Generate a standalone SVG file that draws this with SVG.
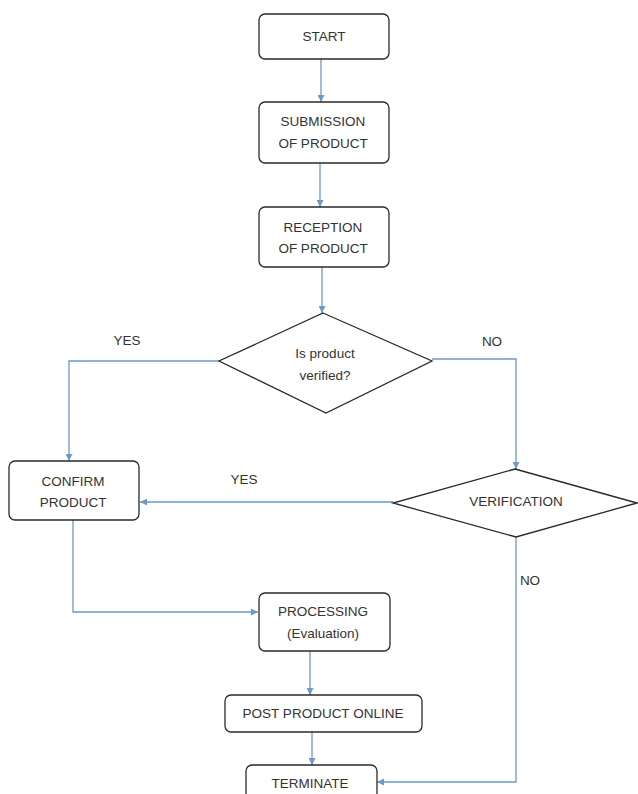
<svg xmlns="http://www.w3.org/2000/svg" width="638" height="794" viewBox="0 0 638 794">
<defs>
<style>
.box{fill:#fff;stroke:#2a2a2a;stroke-width:1.3}
.t{font-family:"Liberation Sans",Arial,sans-serif;font-size:13.5px;fill:#333;text-anchor:middle;dominant-baseline:central}
.c{fill:none;stroke:#6b9ac6;stroke-width:1.3}
</style>
<marker id="ah" viewBox="0 0 10 10" refX="10" refY="5" markerWidth="7" markerHeight="7" markerUnits="userSpaceOnUse" orient="auto">
<path d="M0,0 L10,5 L0,10 z" fill="#6b9ac6"/>
</marker>
</defs>
<rect width="638" height="794" fill="#fff"/>
<g id="connectors">
<path class="c" d="M321,59 V102" marker-end="url(#ah)"/>
<path class="c" d="M320,163 V207" marker-end="url(#ah)"/>
<path class="c" d="M322,267 V313" marker-end="url(#ah)"/>
<path class="c" d="M219,361 H69 V461" marker-end="url(#ah)"/>
<path class="c" d="M432,359 H516 V469" marker-end="url(#ah)"/>
<path class="c" d="M393,502 H140" marker-end="url(#ah)"/>
<path class="c" d="M73,520 V612 H258" marker-end="url(#ah)"/>
<path class="c" d="M310,651 V695" marker-end="url(#ah)"/>
<path class="c" d="M312,732 V765" marker-end="url(#ah)"/>
<path class="c" d="M516,537 V782 H377" marker-end="url(#ah)"/>
<text class="t" x="127" y="340">YES</text>
<text class="t" x="492" y="341">NO</text>
<text class="t" x="244" y="479">YES</text>
<text class="t" x="530" y="580">NO</text>
</g>
<g id="start">
<rect class="box" x="259" y="14" width="130" height="45" rx="6"/>
<text class="t" x="324" y="36">START</text>
</g>
<g id="submission">
<rect class="box" x="259" y="102" width="130" height="61" rx="6"/>
<text class="t" x="323" y="121">SUBMISSION</text>
<text class="t" x="323" y="143">OF PRODUCT</text>
</g>
<g id="reception">
<rect class="box" x="259" y="207" width="130" height="60" rx="6"/>
<text class="t" x="323" y="227">RECEPTION</text>
<text class="t" x="323" y="248">OF PRODUCT</text>
</g>
<g id="verified">
<polygon class="box" points="323,313 432,361 326,413 219,361"/>
<text class="t" x="325" y="353">Is product</text>
<text class="t" x="325" y="375">verified?</text>
</g>
<g id="confirm">
<rect class="box" x="9" y="461" width="130" height="59" rx="6"/>
<text class="t" x="73" y="481">CONFIRM</text>
<text class="t" x="73" y="502">PRODUCT</text>
</g>
<g id="verification">
<polygon class="box" points="515,469 637,503 516,537 393,503"/>
<text class="t" x="516" y="501">VERIFICATION</text>
</g>
<g id="processing">
<rect class="box" x="259" y="593" width="131" height="58" rx="6"/>
<text class="t" x="323" y="611">PROCESSING</text>
<text class="t" x="323" y="633">(Evaluation)</text>
</g>
<g id="post">
<rect class="box" x="225" y="695" width="197" height="37" rx="6"/>
<text class="t" x="323" y="713">POST PRODUCT ONLINE</text>
</g>
<g id="terminate">
<rect class="box" x="246" y="765" width="131" height="40" rx="6"/>
<text class="t" x="310" y="783">TERMINATE</text>
</g>
</svg>
